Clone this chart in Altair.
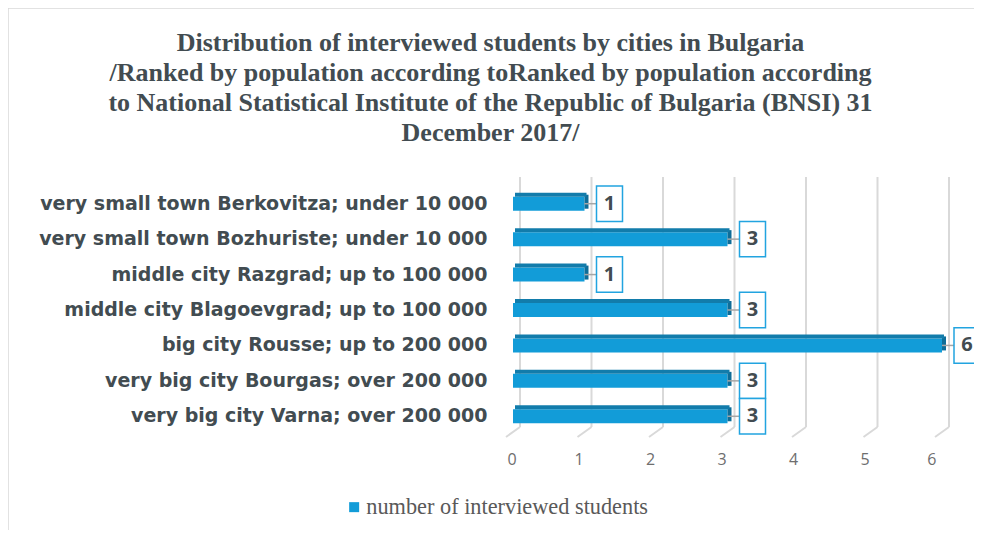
import altair as alt
import pandas as pd

categories = [
    "very small town Berkovitza; under 10 000",
    "very small town Bozhuriste; under 10 000\u00a0",
    "middle city Razgrad; up to 100 000",
    "middle city Blagoevgrad; up to 100 000",
    "big city Rousse; up to 200 000\u00a0",
    "very big city Bourgas; over 200 000\u00a0",
    "very big city Varna; over 200 000",
]
students = [1, 3, 1, 3, 6, 3, 3]
tick_values = [0, 1, 2, 3, 4, 5, 6]
series_name = "number of interviewed students"
title_lines = [
    "Distribution of interviewed students by cities in Bulgaria",
    "/Ranked by population according toRanked by population according",
    "to National Statistical Institute of the Republic of Bulgaria (BNSI) 31",
    "December 2017/",
]

df = pd.DataFrame({"city": categories, "students": students, "series": series_name})
ticks_df = pd.DataFrame({"t": tick_values})
one_df = pd.DataFrame({"k": [0]})

W, H = 429, 248
PAD = {"left": 505, "top": 178, "right": 966 - 505 - 429, "bottom": 522 - 178 - 248}
BLUE = "#129cd8"
TOP = "#127cab"
SIDE = "#0e6d98"
TEXT = "#424c51"
GRID = "#d9d9d9"

x_scale = alt.Scale(domain=[0, 6], nice=False, zero=True)
y_scale = alt.Scale(domain=categories, paddingInner=0, paddingOuter=0)

x_axis = alt.Axis(title=None, values=tick_values, domain=False, ticks=False, grid=False,
                  labelFont="Open Sans", labelFontSize=16, labelColor="#6e6e6e",
                  labelPadding=17, labelOffset=-6)
y_axis = alt.Axis(title=None, domain=False, ticks=False, grid=False,
                  labelFont="DejaVu Sans", labelFontWeight="bold", labelFontSize=19,
                  labelColor=TEXT, labelPadding=26, labelLimit=0)

def xq(field):
    return alt.X(field, type="quantitative", scale=x_scale, axis=x_axis)

y_enc = alt.Y("city:N", sort=categories, scale=y_scale, axis=y_axis)

base = alt.Chart(df)

grid = alt.Chart(ticks_df).mark_rule(color=GRID, strokeWidth=2, xOffset=7).encode(
    x=xq("t"), y=alt.value(-9), y2=alt.value(241))
feet = alt.Chart(ticks_df).mark_rule(color=GRID, strokeWidth=2, xOffset=7, x2Offset=-7).encode(
    x=xq("t"), x2=alt.X2("t"), y=alt.value(241), y2=alt.value(251))

front = base.mark_bar(size=14).encode(
    x=xq("students"), y=y_enc,
    color=alt.Color("series:N", scale=alt.Scale(range=[BLUE]),
                    legend=alt.Legend(title=None, orient="none", legendX=-170, legendY=310,
                                      symbolType="square", symbolSize=100, symbolStrokeWidth=0,
                                      labelFont="Liberation Serif", labelFontSize=22.3,
                                      labelColor="#595959", labelOffset=1, labelLimit=0)))
side = base.mark_bar(size=14, yOffset=-2, x2Offset=4, color=SIDE).encode(
    x=xq("students"), x2=alt.X2("students"), y=y_enc)
top = base.mark_bar(size=4, yOffset=-9, xOffset=2, x2Offset=2, color=TOP).encode(
    x=xq("students"), y=y_enc)
leader = base.mark_rule(color="#a6a6a6", strokeWidth=1.5, x2Offset=12).encode(
    x=xq("students"), x2=alt.X2("students"), y=y_enc)
box = base.mark_rect(fill="white", stroke="#22a4e0", strokeWidth=1.5, xOffset=12, x2Offset=38).encode(
    x=xq("students"), x2=alt.X2("students"), y=y_enc)
nums = base.mark_text(dx=25, font="Open Sans", fontWeight="bold", fontSize=20, color=TEXT,
                      align="center", baseline="middle").encode(
    x=xq("students"), y=y_enc, text="students:Q")

border_left = alt.Chart(one_df).mark_rule(color="#d9d9d9", strokeWidth=1.5).encode(
    x=alt.value(-PAD["left"]), y=alt.value(-PAD["top"]), y2=alt.value(H + PAD["bottom"]))
border_top = alt.Chart(one_df).mark_rule(color="#d9d9d9", strokeWidth=1.5).encode(
    x=alt.value(-PAD["left"]), x2=alt.value(W + PAD["right"]), y=alt.value(-PAD["top"]))

chart = alt.layer(border_left, border_top, grid, feet, front, side, top, leader, box, nums).properties(
    width=W, height=H,
    title=alt.TitleParams(text=title_lines, font="Liberation Serif", fontSize=26, fontWeight="bold",
                          color=TEXT, lineHeight=30, anchor="middle", frame="group", dx=-237, dy=143),
    autosize=alt.AutoSizeParams(type="none"),
    padding=PAD,
).configure(background="white").configure_view(stroke=None)

chart.save("out.html", embed_options={"renderer": "svg", "actions": False})
